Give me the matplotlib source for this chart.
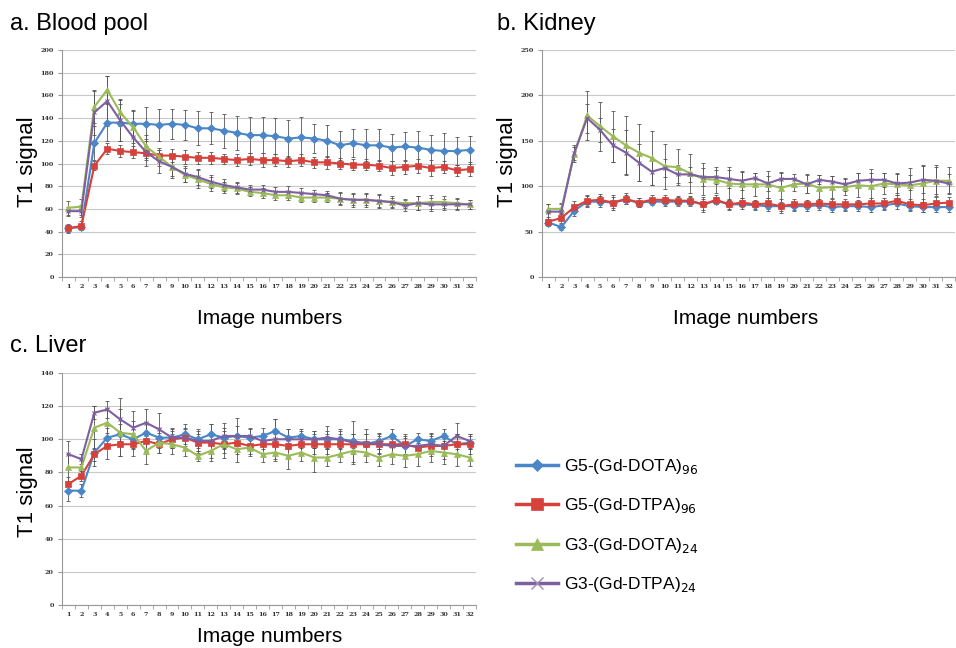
import numpy as np
import matplotlib
matplotlib.use("Agg")
import matplotlib.pyplot as plt
from matplotlib.lines import Line2D

plt.rcParams["font.family"] = ["Liberation Sans", "DejaVu Sans"]

images = np.arange(1, 33)

series_names = ["G5-(Gd-DOTA)$_{96}$", "G5-(Gd-DTPA)$_{96}$",
                "G3-(Gd-DOTA)$_{24}$", "G3-(Gd-DTPA)$_{24}$"]
colors = ["#4a86c8", "#d7413b", "#9bbb59", "#7e5fa0"]
markers = ["D", "s", "^", "x"]

# a. Blood pool
blood_dota96 = [43, 44, 118, 136, 136, 135, 135, 134, 135, 134, 131, 131, 129, 127, 125, 125,
                124, 122, 123, 122, 120, 116, 118, 116, 116, 114, 115, 114, 112, 111, 111, 112]
blood_dtpa96 = [43, 45, 98, 113, 111, 110, 109, 107, 107, 106, 105, 105, 104, 103, 104, 103,
                103, 102, 103, 101, 101, 100, 99, 99, 98, 96, 97, 98, 96, 97, 94, 95]
blood_dota24 = [61, 62, 150, 165, 145, 132, 115, 106, 97, 90, 86, 82, 79, 78, 75, 74,
                72, 72, 70, 70, 70, 69, 68, 68, 67, 66, 65, 65, 66, 66, 65, 64]
blood_dtpa24 = [58, 58, 145, 155, 138, 123, 110, 102, 97, 91, 88, 84, 81, 79, 77, 77,
                75, 75, 74, 73, 72, 69, 68, 68, 67, 66, 63, 65, 64, 64, 64, 64]
blood_err_dota96 = [3, 3, 15, 16, 16, 12, 15, 14, 13, 13, 15, 14, 15, 15, 16, 16,
                    16, 16, 18, 13, 14, 13, 12, 14, 14, 12, 13, 15, 13, 16, 12, 12]
blood_err_dtpa96 = [4, 4, 4, 5, 5, 5, 6, 5, 6, 6, 5, 5, 4, 5, 5, 6,
                    5, 5, 5, 5, 6, 5, 5, 5, 5, 6, 6, 6, 7, 5, 5, 6]
blood_err_dota24 = [6, 7, 14, 12, 12, 14, 10, 8, 8, 6, 8, 6, 5, 5, 4, 4,
                    4, 4, 4, 4, 4, 5, 5, 5, 5, 4, 4, 6, 6, 5, 5, 4]
blood_err_dtpa24 = [4, 5, 20, 22, 18, 14, 12, 10, 10, 7, 7, 6, 5, 5, 4, 4,
                    4, 5, 4, 4, 4, 6, 6, 6, 6, 5, 5, 6, 6, 5, 5, 4]

# b. Kidney
kidney_dota96 = [60, 55, 73, 83, 83, 82, 85, 82, 83, 83, 83, 83, 80, 84, 80, 80,
                 79, 78, 78, 78, 78, 79, 77, 78, 78, 77, 79, 81, 78, 77, 77, 77]
kidney_dtpa96 = [61, 65, 77, 84, 85, 82, 86, 82, 85, 85, 84, 84, 80, 85, 80, 82,
                 80, 81, 78, 80, 80, 81, 80, 80, 80, 81, 81, 84, 80, 79, 81, 82]
kidney_dota24 = [75, 75, 135, 178, 166, 155, 145, 137, 131, 122, 121, 114, 108, 107, 103, 102,
                 102, 102, 98, 102, 103, 98, 99, 99, 101, 100, 103, 102, 101, 103, 106, 106]
kidney_dtpa24 = [72, 72, 137, 175, 162, 145, 137, 126, 116, 120, 113, 113, 110, 110, 108, 106,
                 109, 103, 108, 108, 102, 107, 105, 102, 106, 107, 107, 103, 104, 107, 106, 103]
kidney_err_dota96 = [4, 3, 6, 6, 6, 6, 5, 5, 4, 5, 5, 5, 6, 4, 5, 5,
                     5, 5, 5, 5, 5, 5, 5, 5, 5, 5, 5, 6, 5, 5, 5, 5]
kidney_err_dtpa96 = [5, 5, 7, 6, 6, 8, 6, 5, 5, 5, 5, 5, 8, 5, 6, 5,
                     5, 6, 8, 6, 5, 5, 6, 6, 5, 6, 6, 6, 6, 7, 7, 6]
kidney_err_dota24 = [5, 6, 8, 27, 27, 28, 32, 31, 30, 25, 20, 22, 18, 14, 18, 15,
                     13, 15, 17, 7, 10, 14, 12, 9, 13, 19, 12, 12, 19, 20, 17, 15]
kidney_err_dtpa24 = [8, 8, 8, 16, 13, 18, 25, 20, 15, 10, 10, 8, 10, 8, 10, 10,
                     6, 8, 8, 5, 10, 5, 6, 7, 8, 8, 8, 10, 8, 15, 15, 10]

# c. Liver
liver_dota96 = [69, 69, 92, 101, 103, 100, 104, 101, 101, 103, 100, 103, 101, 102, 101, 102,
                105, 101, 102, 100, 100, 100, 99, 97, 99, 102, 96, 100, 99, 102, 97, 98]
liver_dtpa96 = [73, 78, 91, 96, 97, 97, 99, 97, 100, 101, 98, 98, 97, 98, 96, 97,
                97, 96, 97, 97, 97, 97, 97, 97, 97, 97, 97, 95, 96, 96, 97, 97]
liver_dota24 = [83, 83, 107, 110, 104, 103, 93, 98, 97, 95, 90, 93, 97, 94, 95, 91,
                92, 90, 92, 89, 89, 91, 93, 92, 89, 91, 90, 91, 93, 92, 91, 89]
liver_dtpa24 = [91, 88, 116, 118, 112, 107, 110, 106, 101, 101, 99, 99, 102, 102, 102, 99,
                100, 100, 100, 100, 101, 100, 98, 98, 97, 96, 96, 96, 97, 96, 102, 99]
liver_err_dota96 = [6, 4, 8, 6, 6, 6, 6, 6, 5, 6, 5, 6, 6, 6, 5, 5,
                    7, 5, 4, 5, 5, 5, 4, 6, 5, 4, 6, 4, 5, 4, 6, 4]
liver_err_dtpa96 = [4, 3, 4, 8, 7, 7, 6, 5, 5, 5, 5, 5, 5, 5, 5, 6,
                    6, 6, 6, 6, 6, 6, 6, 6, 6, 6, 6, 5, 6, 6, 6, 6]
liver_err_dota24 = [8, 5, 13, 9, 14, 8, 8, 6, 6, 5, 3, 6, 8, 8, 5, 5,
                    5, 8, 5, 9, 5, 5, 7, 6, 5, 6, 7, 7, 7, 7, 7, 5]
liver_err_dtpa24 = [8, 3, 4, 5, 13, 10, 8, 10, 6, 6, 7, 10, 8, 11, 5, 5,
                    12, 6, 5, 5, 7, 6, 13, 8, 5, 5, 5, 5, 6, 8, 8, 4]

W, H = 956, 648


def px_axes(fig, left, top, right, bottom):
    return fig.add_axes([left / W, 1 - bottom / H, (right - left) / W, (bottom - top) / H])


def draw_panel(ax, values, errors, ymax, ystep):
    for vals, errs, c, m in zip(values, errors, colors, markers):
        ax.errorbar(images, vals, yerr=errs, fmt="none", ecolor="#555555",
                    elinewidth=0.6, capsize=1.6, capthick=0.6, zorder=2)
        ms = {"D": 4, "s": 5, "^": 5, "x": 3}[m]
        ax.plot(images, vals, color=c, marker=m, markersize=ms, linewidth=1.5,
                markeredgewidth=0.8 if m == "x" else 0.5, zorder=3)
    ax.set_xlim(0.5, 32.5)
    ax.set_ylim(0, ymax)
    ax.set_yticks(np.arange(0, ymax + 1, ystep))
    ax.set_xticks(images)
    ax.set_xticks(np.arange(0.5, 33, 1), minor=True)
    ax.yaxis.grid(True, color="#c8c8c8", linewidth=0.8)
    ax.set_axisbelow(True)
    for s in ["top", "right"]:
        ax.spines[s].set_visible(False)
    for s in ["left", "bottom"]:
        ax.spines[s].set_color("#999999")
    ax.tick_params(axis="x", which="major", length=0, pad=5)
    ax.tick_params(axis="x", which="minor", length=3, color="#999999")
    ax.tick_params(axis="y", length=3, color="#999999", pad=3)
    for lab in ax.get_xticklabels() + ax.get_yticklabels():
        lab.set_family("DejaVu Serif")
        lab.set_fontsize(4.6)
        lab.set_fontweight("bold")
        lab.set_color("#333333")


fig = plt.figure(figsize=(W / 100, H / 100), dpi=100)

ax_a = px_axes(fig, 62, 50, 476, 277)
draw_panel(ax_a, [blood_dota96, blood_dtpa96, blood_dota24, blood_dtpa24],
           [blood_err_dota96, blood_err_dtpa96, blood_err_dota24, blood_err_dtpa24], 200, 20)
ax_b = px_axes(fig, 542, 50, 955, 277)
draw_panel(ax_b, [kidney_dota96, kidney_dtpa96, kidney_dota24, kidney_dtpa24],
           [kidney_err_dota96, kidney_err_dtpa96, kidney_err_dota24, kidney_err_dtpa24], 250, 50)
ax_c = px_axes(fig, 62, 373, 476, 605)
draw_panel(ax_c, [liver_dota96, liver_dtpa96, liver_dota24, liver_dtpa24],
           [liver_err_dota96, liver_err_dtpa96, liver_err_dota24, liver_err_dtpa24], 140, 20)

fig.text(10 / W, 1 - 24 / H, "a. Blood pool", fontsize=17, va="center", ha="left")
fig.text(497 / W, 1 - 24 / H, "b. Kidney", fontsize=17, va="center", ha="left")
fig.text(10 / W, 1 - 346 / H, "c. Liver", fontsize=17, va="center", ha="left")

fig.text(27 / W, 1 - 162 / H, "T1 signal", fontsize=16, rotation=90, va="center", ha="center")
fig.text(508 / W, 1 - 162 / H, "T1 signal", fontsize=16, rotation=90, va="center", ha="center")
fig.text(27 / W, 1 - 492 / H, "T1 signal", fontsize=16, rotation=90, va="center", ha="center")

fig.text(270 / W, 1 - 318 / H, "Image numbers", fontsize=15, va="center", ha="center")
fig.text(746 / W, 1 - 318 / H, "Image numbers", fontsize=15, va="center", ha="center")
fig.text(270 / W, 1 - 636 / H, "Image numbers", fontsize=15, va="center", ha="center")

handles = []
for name, c, m in zip(series_names, colors, markers):
    ms = {"D": 6, "s": 8, "^": 8, "x": 8}[m]
    mcol = "#9a8fb0" if m == "x" else c
    handles.append(Line2D([], [], color=c, marker=m, markersize=ms, linewidth=2.5,
                          markerfacecolor=mcol, markeredgecolor=mcol,
                          markeredgewidth=1.0 if m == "x" else 0.5, label=name))
fig.legend(handles=handles, loc="upper left", bbox_to_anchor=(509 / W, 1 - 450 / H),
           frameon=False, fontsize=12.5, handlelength=2.4, labelspacing=1.18,
           handletextpad=0.35, borderaxespad=0)

fig.savefig("out.png", dpi=100)
